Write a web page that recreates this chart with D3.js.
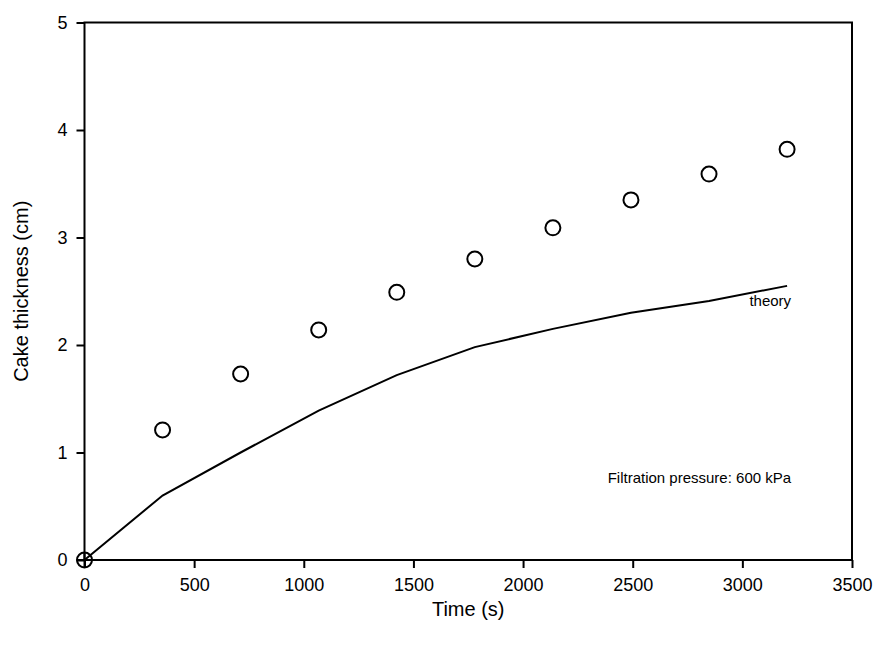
<!DOCTYPE html>
<html>
<head>
<meta charset="utf-8">
<script src="https://cdn.jsdelivr.net/npm/d3@7"></script>
<style>
  body { margin: 0; background: #fff; }
  text { font-family: "Liberation Sans", Arial, sans-serif; fill: #000; }
</style>
</head>
<body>
<div id="chart"></div>
<script>
// measured cake thickness
let timeS = [0, 356, 712, 1068, 1424, 1780, 2136, 2492, 2848, 3204];
let thicknessCm = [0, 1.21, 1.73, 2.14, 2.49, 2.80, 3.09, 3.35, 3.59, 3.82];
// theory curve
let theoryCm = [0, 0.60, 1.00, 1.39, 1.72, 1.98, 2.15, 2.30, 2.41, 2.55];
let xTicks = [0, 500, 1000, 1500, 2000, 2500, 3000, 3500];
let yTicks = [0, 1, 2, 3, 4, 5];

let width = 879;
let height = 650;
let margin = {top: 22.5, right: 27, bottom: 90, left: 84.5};
let w = width - margin.left - margin.right;
let h = height - margin.top - margin.bottom;

let svg = d3.select('#chart')
    .append('svg')
        .attr('width', width)
        .attr('height', height)
    .append('g')
        .attr('transform', 'translate(' + margin.left + ',' + margin.top + ')');

let xScale = d3.scaleLinear().domain([0, 3500]).range([0, w]);
let yScale = d3.scaleLinear().domain([0, 5]).range([h, 0]);

// frame
svg.append('rect')
    .attr('width', w).attr('height', h)
    .attr('fill', 'none').attr('stroke', '#000').attr('stroke-width', 2);

let xAxis = svg.append('g')
    .attr('transform', 'translate(0,' + h + ')')
    .call(d3.axisBottom(xScale).tickValues(xTicks).tickSize(8).tickPadding(10).tickFormat(d3.format('d')));
let yAxis = svg.append('g')
    .call(d3.axisLeft(yScale).tickValues(yTicks).tickSize(8).tickPadding(9).tickFormat(d3.format('d')));

[xAxis, yAxis].forEach(function (a) {
    a.select('.domain').remove();
    a.selectAll('line').attr('stroke', '#000').attr('stroke-width', 2);
    a.selectAll('text').style('font-size', '18px').style('font-family', '"Liberation Sans", Arial, sans-serif');
});

// axis titles
svg.append('text')
    .attr('x', w / 2).attr('y', h + 56)
    .attr('text-anchor', 'middle')
    .style('font-size', '20px')
    .text('Time (s)');
svg.append('text')
    .attr('transform', 'translate(' + (-57) + ',' + (h / 2) + ') rotate(-90)')
    .attr('text-anchor', 'middle')
    .style('font-size', '20px')
    .text('Cake thickness (cm)');

// theory line
let line = d3.line()
    .x(function (d, i) { return xScale(timeS[i]); })
    .y(function (d) { return yScale(d); });
svg.append('path')
    .datum(theoryCm)
    .attr('fill', 'none')
    .attr('stroke', '#000')
    .attr('stroke-width', 2)
    .attr('d', line);

// data points
svg.selectAll('.pt')
    .data(thicknessCm)
    .enter()
    .append('circle')
        .attr('class', 'pt')
        .attr('cx', function (d, i) { return xScale(timeS[i]); })
        .attr('cy', function (d) { return yScale(d); })
        .attr('r', 7.5)
        .attr('fill', 'none')
        .attr('stroke', '#000')
        .attr('stroke-width', 2);

// cross at origin point
svg.append('line')
    .attr('x1', xScale(0) - 7.5).attr('x2', xScale(0) + 7.5)
    .attr('y1', yScale(0)).attr('y2', yScale(0))
    .attr('stroke', '#000').attr('stroke-width', 2);
svg.append('line')
    .attr('x1', xScale(0)).attr('x2', xScale(0))
    .attr('y1', yScale(0) - 7.5).attr('y2', yScale(0) + 7.5)
    .attr('stroke', '#000').attr('stroke-width', 2);

// annotations
svg.append('text')
    .attr('x', xScale(3204) + 4).attr('y', yScale(2.55) + 20)
    .attr('text-anchor', 'end')
    .style('font-size', '15px')
    .text('theory');
svg.append('text')
    .attr('x', xScale(3204) + 4).attr('y', yScale(0.72))
    .attr('text-anchor', 'end')
    .style('font-size', '15px')
    .text('Filtration pressure: 600 kPa');
</script>
</body>
</html>
